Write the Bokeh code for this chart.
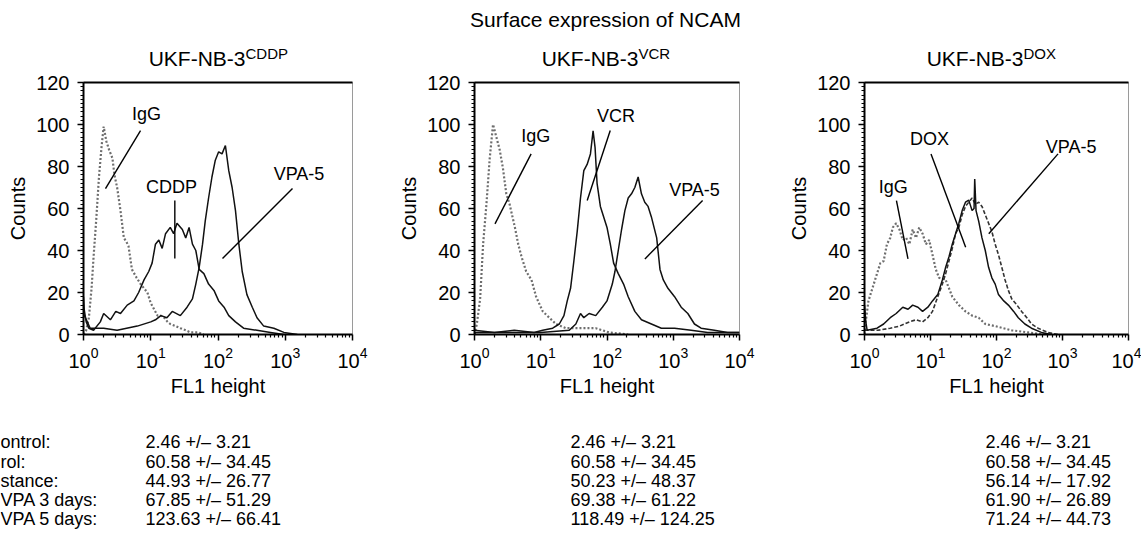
from bokeh.plotting import figure
from bokeh.models import Range1d, FixedTicker, LinearAxis, ColumnDataSource
from bokeh.layouts import row, column
from bokeh.core.properties import value
from bokeh.embed import file_html
from bokeh.resources import INLINE

FONT = "Liberation Sans"

# ---------------- data (x given as log10 of FL1 height, y = counts) ----------------
# Panel 1: UKF-NB-3 CDDP
igg1_log = [0.0, 0.04, 0.08, 0.12, 0.15, 0.19, 0.23, 0.27, 0.30, 0.34, 0.38, 0.43, 0.46, 0.50, 0.55, 0.60, 0.64, 0.67,
            0.72, 0.79, 0.85, 0.90, 0.95, 1.00, 1.05, 1.10, 1.15, 1.20, 1.25, 1.29, 1.37, 1.44, 1.52, 1.59, 1.70, 1.79]
igg1_cnt = [0, 2, 8, 22, 37, 55, 75, 90, 99, 92, 88, 84, 76, 70, 59, 46, 44, 42,
            31, 27, 24, 22, 20, 15, 12, 9, 9, 8, 6, 5, 4, 3, 2, 1, 1, 0]
cddp1_log = [0.0, 0.01, 0.04, 0.08, 0.15, 0.25, 0.30, 0.40, 0.48, 0.55, 0.65, 0.75, 0.82, 0.90, 0.97, 1.02, 1.07, 1.12,
             1.17, 1.22, 1.29, 1.34, 1.39, 1.47, 1.52, 1.57, 1.62, 1.67, 1.72, 1.79, 1.86, 1.94, 2.01, 2.09, 2.16,
             2.26, 2.38, 2.58, 2.78, 2.98]
cddp1_cnt = [18, 12, 6, 3, 2, 6, 10, 7, 11, 10, 14, 16, 20, 26, 30, 34, 43, 45,
             41, 48, 51, 48, 53, 50, 46, 51, 43, 40, 31, 29, 24, 21, 16, 13, 9,
             6, 3, 2, 1, 0]
vpa1_log = [0.0, 0.10, 0.30, 0.50, 0.80, 1.00, 1.07, 1.15, 1.24, 1.32, 1.44, 1.54, 1.62, 1.67, 1.72, 1.77, 1.81, 1.86,
            1.91, 1.96, 2.01, 2.06, 2.11, 2.16, 2.21, 2.26, 2.31, 2.36, 2.43, 2.51, 2.58, 2.68, 2.83, 2.98, 3.18]
vpa1_cnt = [10, 3, 3, 2, 4, 6, 7, 9, 8, 11, 9, 13, 17, 24, 32, 43, 54, 65,
            75, 83, 87, 86, 90, 78, 70, 59, 43, 30, 19, 13, 8, 4, 3, 1, 0]

# Panel 2: UKF-NB-3 VCR
igg2_log = [0.0, 0.035, 0.085, 0.13, 0.18, 0.23, 0.28, 0.33, 0.38, 0.43, 0.48, 0.53, 0.61, 0.66, 0.71, 0.78, 0.86,
            0.93, 1.03, 1.13, 1.23, 1.38, 1.63, 1.83, 2.03, 2.32]
igg2_cnt = [0, 5, 17, 43, 62, 84, 100, 94, 88, 79, 67, 62, 51, 43, 37, 30, 26,
            18, 11, 8, 5, 3, 3, 3, 1, 0]
vcr2_log = [0.0, 0.3, 0.6, 0.9, 1.03, 1.18, 1.28, 1.35, 1.40, 1.45, 1.50, 1.55, 1.60, 1.65, 1.70, 1.75, 1.79, 1.82,
            1.85, 1.90, 1.95, 2.00, 2.05, 2.10, 2.17, 2.25, 2.32, 2.42, 2.52, 2.67, 2.82, 3.02, 3.27, 3.52, 3.82, 4.0]
vcr2_cnt = [2, 1, 2, 1, 2, 3, 5, 9, 16, 22, 35, 49, 65, 78, 81, 86, 97, 89,
            72, 61, 56, 51, 43, 34, 29, 24, 18, 11, 7, 5, 3, 3, 2, 1, 1, 1]
vpa2_log = [0.0, 0.5, 1.0, 1.43, 1.53, 1.60, 1.65, 1.73, 1.83, 1.93, 2.00, 2.08, 2.12, 2.17, 2.22, 2.27, 2.32, 2.37,
            2.42, 2.47, 2.52, 2.57, 2.62, 2.67, 2.75, 2.80, 2.85, 2.92, 3.02, 3.12, 3.22, 3.32, 3.42, 3.62, 3.82, 4.0]
vpa2_cnt = [1, 1, 1, 2, 5, 10, 8, 10, 9, 13, 16, 24, 30, 40, 50, 59, 65, 67,
            70, 75, 67, 63, 61, 56, 46, 31, 26, 22, 18, 13, 10, 5, 3, 2, 1, 1]

# Panel 3: UKF-NB-3 DOX
igg3_log = [0.0, 0.01, 0.06, 0.11, 0.19, 0.24, 0.29, 0.34, 0.39, 0.43, 0.48, 0.53, 0.58, 0.63, 0.68, 0.73, 0.78,
            0.83, 0.88, 0.93, 0.98, 1.03, 1.08, 1.13, 1.23, 1.33, 1.43, 1.53, 1.63, 1.73, 1.83, 1.98, 2.23, 2.48, 2.73]
igg3_cnt = [0, 4, 16, 21, 29, 34, 35, 43, 46, 51, 53, 50, 45, 46, 43, 50, 46,
            51, 48, 43, 45, 38, 31, 27, 26, 18, 14, 11, 9, 8, 5, 4, 2, 1, 0]
dox3_log = [0.0, 0.02, 0.04, 0.19, 0.29, 0.39, 0.48, 0.58, 0.66, 0.73, 0.81, 0.88, 0.96, 1.03, 1.11, 1.18, 1.23,
            1.28, 1.33, 1.38, 1.43, 1.48, 1.53, 1.58, 1.63, 1.66, 1.67, 1.69, 1.73, 1.78, 1.83, 1.88, 1.93, 1.98,
            2.03, 2.11, 2.18, 2.26, 2.33, 2.43, 2.53, 2.68, 2.83]
dox3_cnt = [14, 6, 2, 3, 5, 8, 10, 13, 12, 14, 13, 11, 13, 16, 19, 26, 32,
            37, 43, 48, 53, 59, 63, 64, 59, 60, 74, 59, 54, 46, 40, 32, 27, 24,
            19, 16, 14, 11, 8, 5, 3, 1, 0]
vpa3_log = [0.0, 0.2, 0.39, 0.53, 0.68, 0.78, 0.88, 0.96, 1.03, 1.11, 1.18, 1.23, 1.28, 1.33, 1.38, 1.43, 1.48, 1.53,
            1.58, 1.63, 1.68, 1.73, 1.78, 1.83, 1.88, 1.93, 1.98, 2.03, 2.08, 2.13, 2.18, 2.23, 2.31, 2.38, 2.46,
            2.53, 2.63, 2.78, 2.93]
vpa3_cnt = [2, 2, 3, 4, 6, 7, 6, 8, 11, 18, 24, 29, 35, 41, 48, 51, 57, 61,
            63, 65, 62, 63, 61, 57, 53, 49, 43, 38, 32, 26, 21, 17, 14, 11, 8,
            5, 3, 1, 0]

# titles and axis texts
title_main = "UKF-NB-3"
title_sups = ["CDDP", "VCR", "DOX"]
suptitle = "Surface expression of NCAM"
x_label = "FL1 height"
y_label = "Counts"
y_ticks = [0, 20, 40, 60, 80, 100, 120]
x_ticks = [1, 10, 100, 1000, 10000]

# curve annotations: label text, label position (log10 x, count), pointer (log x0, y0, log x1, y1)
ann1_text = ["IgG", "CDDP", "VPA-5"]
ann1_pos = [(0.937, 105), (1.309, 70.2), (3.205, 76.4)]
ann1_seg = [(0.848, 97.1, 0.327, 69.5), (1.358, 63.8, 1.358, 36.2), (3.108, 69.5, 2.067, 36.2)]
ann2_text = ["IgG", "VCR", "VPA-5"]
ann2_pos = [(0.925, 94.5), (2.134, 104), (3.321, 69)]
ann2_seg = [(0.855, 86, 0.309, 52.7), (2.049, 97.1, 1.701, 63.8), (3.443, 63.8, 2.572, 36)]
ann3_text = ["DOX", "VPA-5", "IgG"]
ann3_pos = [(0.984, 93.2), (3.131, 89.3), (0.434, 70.2)]
ann3_seg = [(1.008, 86, 1.533, 41.6), (2.932, 86, 1.883, 48), (0.484, 63.8, 0.659, 36)]

# table below
row_labels = ["ontrol:", "rol:", "stance:", "VPA 3 days:", "VPA 5 days:"]
cddp_vals = ["2.46 +/\u2013 3.21", "60.58 +/\u2013 34.45", "44.93 +/\u2013 26.77", "67.85 +/\u2013 51.29",
             "123.63 +/\u2013 66.41"]
vcr_vals = ["2.46 +/\u2013 3.21", "60.58 +/\u2013 34.45", "50.23 +/\u2013 48.37", "69.38 +/\u2013 61.22",
            "118.49 +/\u2013 124.25"]
dox_vals = ["2.46 +/\u2013 3.21", "60.58 +/\u2013 34.45", "56.14 +/\u2013 17.92", "61.90 +/\u2013 26.89",
            "71.24 +/\u2013 44.73"]

# ---------------- layout (pixels) ----------------
W = 1141
HEAD_H = 70
FRAME_H = 252
TOP, BOTTOM = 12, 85
panel_geom = [  # (border_left, frame_width, border_right)
    (83, 269, 43),
    (76, 268, 46),
    (76, 267, 13),
]


def make_panel(idx, curves, ann_text, ann_pos, ann_seg):
    bl, fw, br = panel_geom[idx]
    p = figure(x_axis_type="log", x_range=Range1d(1, 1e4), y_range=Range1d(0, 120),
               width=bl + fw + br, height=TOP + FRAME_H + BOTTOM,
               min_border_left=bl, min_border_right=br, min_border_top=TOP, min_border_bottom=BOTTOM,
               output_backend="svg", toolbar_location=None)
    p.xgrid.visible = False
    p.ygrid.visible = False
    p.outline_line_color = "#9a9a9a"
    p.outline_line_width = 1
    p.background_fill_color = "white"
    p.border_fill_color = "white"

    p.xaxis.ticker = FixedTicker(ticks=x_ticks,
                                 minor_ticks=[m * 10 ** d for d in range(4) for m in range(2, 10)])
    p.yaxis.ticker = FixedTicker(ticks=y_ticks, minor_ticks=list(range(0, 121, 2)))
    for ax in (p.xaxis[0], p.yaxis[0]):
        ax.axis_line_width = 2
        ax.axis_line_color = "black"
        ax.major_tick_out = 6
        ax.major_tick_in = 0
        ax.minor_tick_out = 3
        ax.minor_tick_in = 0
        ax.major_tick_line_width = 1.5
        ax.minor_tick_line_width = 1.2
        ax.major_label_text_font = FONT
        ax.major_label_text_font_size = "20px"
        ax.major_label_text_color = "black"
        ax.axis_label_text_font = FONT
        ax.axis_label_text_font_size = "20px"
        ax.axis_label_text_font_style = "normal"
        ax.axis_label_text_color = "black"
    p.xaxis.major_label_standoff = 6
    p.xaxis.axis_label_standoff = 4
    p.yaxis.major_label_standoff = 8
    p.yaxis.axis_label_standoff = 4
    p.xaxis.axis_label = x_label
    p.yaxis.axis_label = y_label

    top = LinearAxis(ticker=FixedTicker(ticks=[]), major_label_text_font_size="0px",
                     major_label_standoff=0, axis_label_standoff=0,
                     axis_line_width=2, axis_line_color="black", major_tick_out=0, minor_tick_out=0)
    p.add_layout(top, "above")

    for (lg, cnt, color, dash, lw) in curves:
        src = ColumnDataSource(dict(x=[10 ** v for v in lg], y=cnt))
        p.line("x", "y", source=src, line_color=color, line_dash=dash, line_width=lw)

    asrc = ColumnDataSource(dict(x=[10 ** a for a, _ in ann_pos], y=[b for _, b in ann_pos], t=ann_text))
    p.text("x", "y", text="t", source=asrc, text_font=value(FONT), text_font_size="18px",
           text_align="center", text_baseline="middle", text_color="black")
    ssrc = ColumnDataSource(dict(x0=[10 ** s[0] for s in ann_seg], y0=[s[1] for s in ann_seg],
                                 x1=[10 ** s[2] for s in ann_seg], y1=[s[3] for s in ann_seg]))
    p.segment("x0", "y0", "x1", "y1", source=ssrc, line_color="black", line_width=1.4)
    return p


DOT = "2 2"
p1 = make_panel(0, [(igg1_log, igg1_cnt, "#6e6e6e", DOT, 2.2),
                    (vpa1_log, vpa1_cnt, "#111111", "solid", 1.5),
                    (cddp1_log, cddp1_cnt, "#111111", "solid", 1.5)],
                ann1_text, ann1_pos, ann1_seg)
p2 = make_panel(1, [(igg2_log, igg2_cnt, "#6e6e6e", DOT, 2.2),
                    (vpa2_log, vpa2_cnt, "#111111", "solid", 1.5),
                    (vcr2_log, vcr2_cnt, "#111111", "solid", 1.5)],
                ann2_text, ann2_pos, ann2_seg)
p3 = make_panel(2, [(igg3_log, igg3_cnt, "#6e6e6e", DOT, 2.2),
                    (vpa3_log, vpa3_cnt, "#333333", "4 2", 1.6),
                    (dox3_log, dox3_cnt, "#111111", "solid", 1.5)],
                ann3_text, ann3_pos, ann3_seg)

# ---------------- header (suptitle + panel titles) ----------------
ph = figure(width=W, height=HEAD_H, x_range=Range1d(0, W), y_range=Range1d(HEAD_H, 0),
            x_axis_location=None, y_axis_location=None, min_border=0,
            output_backend="svg", toolbar_location=None)
ph.xgrid.visible = False
ph.ygrid.visible = False
ph.outline_line_color = None
title_join_x = [245, 638, 1023]
ph.text([605], [19], text=[suptitle], text_font=value(FONT), text_font_size="21px",
        text_align="center", text_baseline="middle", text_color="black")
ph.text(title_join_x, [58] * 3, text=[title_main] * 3, text_font=value(FONT), text_font_size="21px",
        text_align="right", text_baseline="middle", text_color="black")
ph.text(title_join_x, [52.5] * 3, text=title_sups, text_font=value(FONT), text_font_size="15px",
        text_align="left", text_baseline="middle", text_color="black")

# ---------------- table ----------------
TH = 128
row_y = [22, 42, 61, 80, 99]
col_x = [0, 145, 570, 985]
pt = figure(width=W, height=TH, x_range=Range1d(0, W), y_range=Range1d(TH, 0),
            x_axis_location=None, y_axis_location=None, min_border=0,
            output_backend="svg", toolbar_location=None)
pt.xgrid.visible = False
pt.ygrid.visible = False
pt.outline_line_color = None
for cx, texts in zip(col_x, [row_labels, cddp_vals, vcr_vals, dox_vals]):
    src = ColumnDataSource(dict(x=[cx] * len(texts), y=row_y, t=texts))
    pt.text("x", "y", text="t", source=src, text_font=value(FONT), text_font_size="18px",
            text_align="left", text_baseline="middle", text_color="black")

layout = column(ph, row(p1, p2, p3), pt)
open("out.html", "w").write(file_html(layout, INLINE))
